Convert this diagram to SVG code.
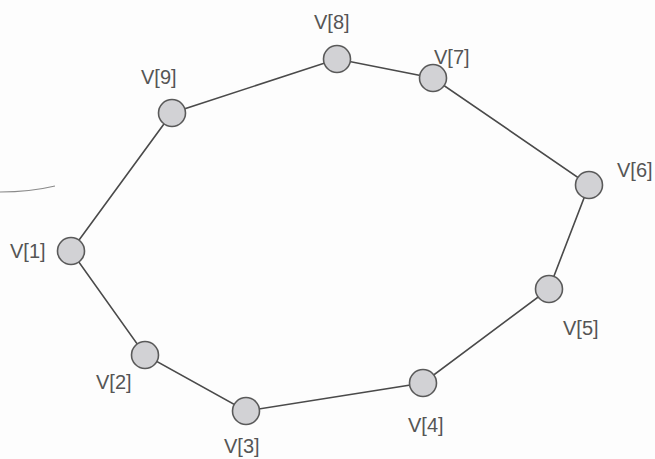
<svg xmlns="http://www.w3.org/2000/svg" width="655" height="459" viewBox="0 0 655 459">
<style>
.edge{stroke:#4a4a4a;stroke-width:1.6;fill:none}
.v{fill:#d2d2d5;stroke:#5a5a5a;stroke-width:1.6}
.lbl{font-family:"Liberation Sans",Arial,sans-serif;font-size:20px;fill:#555}
</style>
<rect width="655" height="459" fill="#fdfdfd"/>
<path d="M0,192 Q30,192 55,186" stroke="#8a8a8a" stroke-width="1.2" fill="none"/>
<g id="connectors">
<polygon class="edge" points="71,251 145,355 246,411 423,383 549,289 589,185 433,78 337,59 172,113"/>
</g>
<g id="v1"><circle class="v" cx="71" cy="251" r="13.5"/><text class="lbl" x="10" y="258">V[1]</text></g>
<g id="v2"><circle class="v" cx="145" cy="355" r="13.5"/><text class="lbl" x="96" y="389">V[2]</text></g>
<g id="v3"><circle class="v" cx="246" cy="411" r="13.5"/><text class="lbl" x="224" y="453">V[3]</text></g>
<g id="v4"><circle class="v" cx="423" cy="383" r="13.5"/><text class="lbl" x="408" y="432">V[4]</text></g>
<g id="v5"><circle class="v" cx="549" cy="289" r="13.5"/><text class="lbl" x="563" y="335">V[5]</text></g>
<g id="v6"><circle class="v" cx="589" cy="185" r="13.5"/><text class="lbl" x="617" y="177">V[6]</text></g>
<g id="v7"><circle class="v" cx="433" cy="78" r="13.5"/><text class="lbl" x="434" y="64">V[7]</text></g>
<g id="v8"><circle class="v" cx="337" cy="59" r="13.5"/><text class="lbl" x="314" y="29">V[8]</text></g>
<g id="v9"><circle class="v" cx="172" cy="113" r="13.5"/><text class="lbl" x="141" y="84">V[9]</text></g>
</svg>
